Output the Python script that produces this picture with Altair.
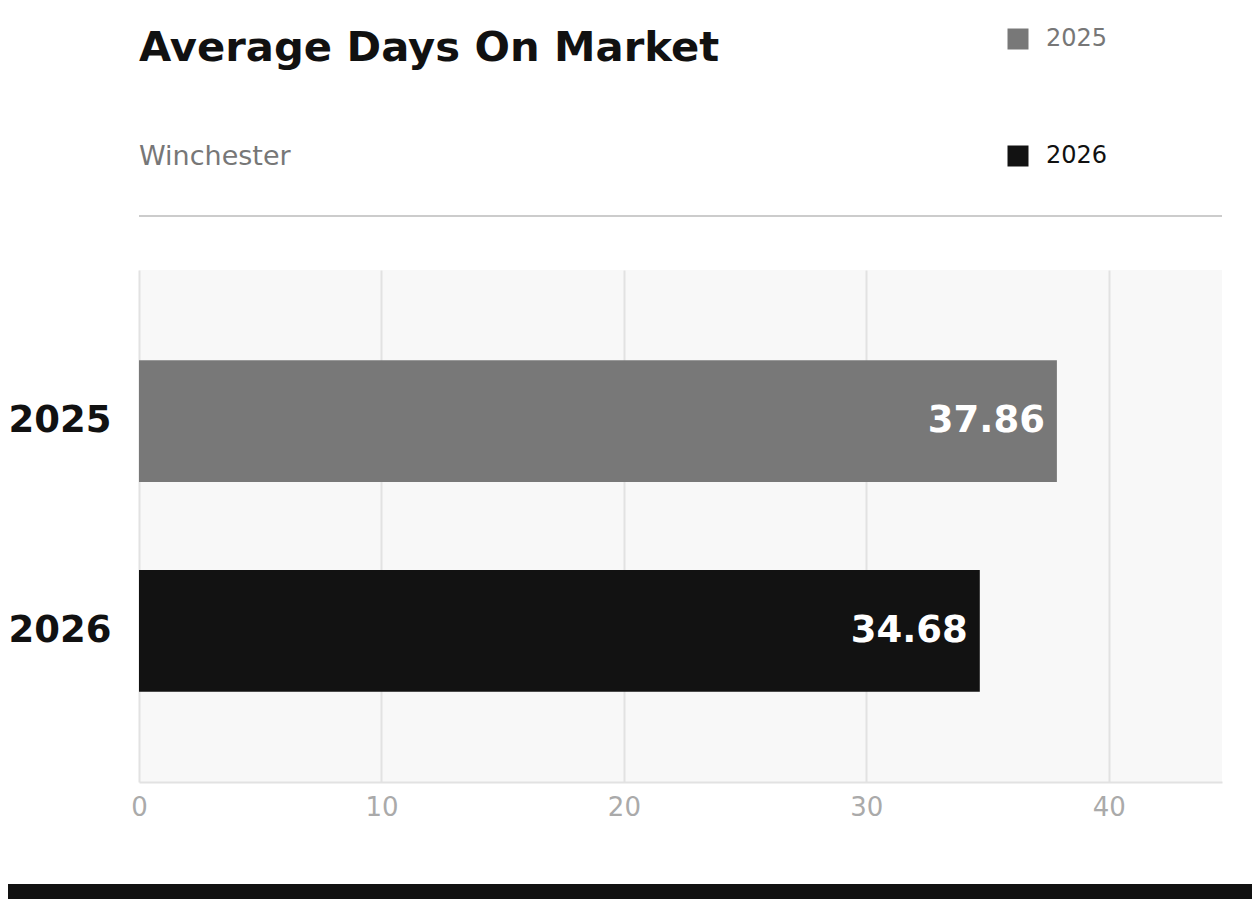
import altair as alt
import pandas as pd

years = ["2025", "2026"]
days = [37.86, 34.68]
bar_colors = ["#787878", "#121212"]
x_ticks = [0, 10, 20, 30, 40]
x_max = 44.67
title_text = "Average Days On Market"
subtitle_text = "Winchester"

df = pd.DataFrame({"year": years, "days": days})
base = alt.Chart(df)

# plot area is 1083 x 512, everything else is placed relative to it
W, H = 1083, 512

legend = alt.Legend(
    title=None, orient="none", legendX=867, legendY=-243, direction="vertical",
    symbolType="square", symbolSize=441, symbolStrokeWidth=0, symbolOpacity=1,
    labelFontSize=24, labelOffset=16, rowPadding=93, padding=0,
    labelColor={"expr": "datum.label == '2025' ? '#777777' : '#111111'"},
)

bars = base.mark_bar().encode(
    x=alt.X("days:Q", scale=alt.Scale(domain=[0, x_max], nice=False),
            axis=alt.Axis(values=x_ticks, title=None, labelFlush=False)),
    y=alt.Y("year:N", sort=years, title=None,
            scale=alt.Scale(paddingInner=0.42, paddingOuter=0.43)),
    color=alt.Color("year:N", scale=alt.Scale(domain=years, range=bar_colors), legend=legend),
)

labels = base.mark_text(
    align="right", baseline="middle", dx=-12, fontSize=37, fontWeight="bold", color="white"
).encode(
    x="days:Q",
    y=alt.Y("year:N", sort=years),
    text=alt.Text("days:Q", format=".2f"),
)

title = alt.Chart(pd.DataFrame({"t": [title_text]})).mark_text(
    align="left", baseline="alphabetic", fontSize=41.7, fontWeight="bold", color="#111111"
).encode(x=alt.value(0), y=alt.value(-209), text="t:N")

subtitle = alt.Chart(pd.DataFrame({"t": [subtitle_text]})).mark_text(
    align="left", baseline="alphabetic", fontSize=27, color="#777777"
).encode(x=alt.value(0), y=alt.value(-105), text="t:N")

one = pd.DataFrame({"a": [0]})
separator = alt.Chart(one).mark_rule(color="#cccccc", strokeWidth=2).encode(
    x=alt.value(0), x2=alt.value(W), y=alt.value(-54)
)
footer = alt.Chart(one).mark_rule(color="#111111", strokeWidth=15).encode(
    x=alt.value(-131), x2=alt.value(W + 30), y=alt.value(621.5)
)

chart = alt.layer(bars, labels, title, subtitle, separator, footer).properties(
    width=W, height=H,
    autosize=alt.AutoSizeParams(type="none"),
    padding={"left": 131, "top": 262, "right": 30, "bottom": 117},
).configure(
    font="DejaVu Sans"
).configure_view(
    fill="#f8f8f8", strokeWidth=0
).configure_axisX(
    labelFontSize=26, labelColor="#aaaaaa", ticks=False, labelPadding=12,
    domainColor="#e2e2e2", domainWidth=2, gridColor="#e2e2e2", gridWidth=2,
).configure_axisY(
    labelFontSize=37, labelFontWeight="bold", labelColor="#111111",
    labelPadding=28, ticks=False, domain=False, grid=False,
)

chart.save("out.html", embed_options={"renderer": "svg", "actions": False})
